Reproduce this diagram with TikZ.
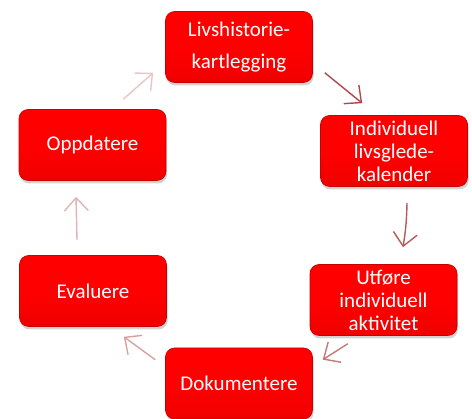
\documentclass[tikz,border=0pt]{standalone}
\usepackage{fontspec}
\setmainfont{Carlito}
\usepackage{xcolor}
\usepackage{tikz}
\usetikzlibrary{positioning,calc,shadows,arrows.meta}

% arrow colours, dark to pale round the cycle
\definecolor{arrowA}{HTML}{B04848}
\definecolor{arrowB}{HTML}{B85A5A}
\definecolor{arrowC}{HTML}{C47878}
\definecolor{arrowD}{HTML}{D9A0A0}
\definecolor{arrowE}{HTML}{E0B4B4}
\definecolor{arrowF}{HTML}{E8C6C6}
\definecolor{boxred}{HTML}{FF0000}
\definecolor{boxlow}{HTML}{F00000}
\definecolor{boxedge}{HTML}{C80000}

\tikzset{
  stepbox/.style={rectangle, rounded corners=9pt, top color=boxred, bottom color=boxlow,
    middle color=boxred, draw=boxedge,
    line width=0.6pt, minimum width=147pt, minimum height=71pt,
    text=white, align=center, font=\fontsize{21}{23}\selectfont,
    drop shadow={shadow xshift=1pt, shadow yshift=-3pt, opacity=0.35}},
  flow/.style={line width=1.4pt, -{Straight Barb[length=13pt,width=24pt]}}
}

\begin{document}
\begin{tikzpicture}[x=1pt,y=1pt]
        % Fix the canvas size
        \useasboundingbox (0,0) rectangle (472,419);

        % Define the centres of the six steps
        \coordinate (Pl) at (239, 372);
        \coordinate (Pi) at (394, 268);
        \coordinate (Pu) at (383.5, 119);
        \coordinate (Pd) at (239, 35.5);
        \coordinate (Pe) at (93, 128);
        \coordinate (Po) at (92.5, 274);

        % Draw the step boxes
        \node[stepbox] (livs) at (Pl) {Livshistorie-\\[9pt]kartlegging};
        \node[stepbox] (indiv) at (Pi) {Individuell\\livsglede-\\kalender};
        \node[stepbox] (utfore) at (Pu) {Utføre\\individuell\\aktivitet};
        \node[stepbox] (dok) at (Pd) {Dokumentere};
        \node[stepbox] (eval) at (Pe) {Evaluere};
        \node[stepbox] (opp) at (Po) {Oppdatere};

        % Connect the steps round the cycle
        \draw[flow, arrowA] ($(livs.south east)+(12,10)$) -- ($(indiv.north west)+(42,12)$);
        \draw[flow, arrowB] ($(indiv.south)+(13,-16)$) to[bend left=4] ($(utfore.north)+(19.5,17)$);
        \draw[flow, arrowC] ($(utfore.south west)+(38,-8)$) -- ($(dok.north east)+(10,-12)$);
        \draw[flow, arrowD] ($(dok.north west)+(-10,-12)$) -- ($(eval.south east)+(-43,-10)$);
        \draw[flow, arrowE] ($(eval.north)+(-16,15)$) -- ($(opp.south)+(-16.5,-16)$);
        \draw[flow, arrowF] ($(opp.north east)+(-43,10)$) -- ($(livs.south west)+(-12,10)$);

    \end{tikzpicture}
\end{document}
